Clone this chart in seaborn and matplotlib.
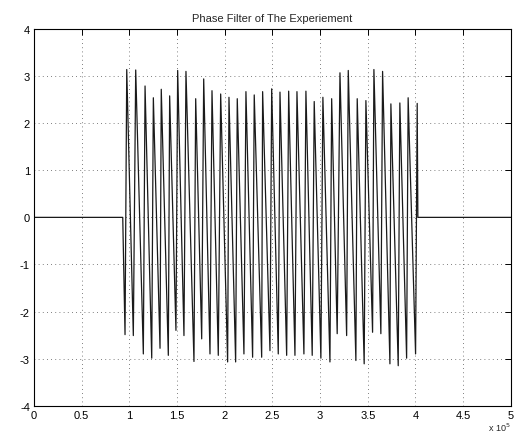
import numpy as np
import pandas as pd
import matplotlib
matplotlib.use("Agg")
import matplotlib.pyplot as plt
import seaborn as sns
from matplotlib.ticker import FuncFormatter

# ---- data ----
onset_x = 0.93e5
offset_x = 4.025e5
x_start, x_end = 0.0, 5.0e5

trough_x = [0.954, 1.041, 1.146, 1.234, 1.321, 1.408, 1.488, 1.572, 1.677, 1.758,
            1.845, 1.932, 2.030, 2.114, 2.201, 2.292, 2.387, 2.474, 2.561, 2.649,
            2.736, 2.830, 2.917, 3.008, 3.103, 3.179, 3.278, 3.375, 3.462, 3.550,
            3.637, 3.732, 3.819, 3.907, 4.001]
trough_y = [-2.49, -2.51, -2.90, -2.99, -2.78, -2.93, -2.40, -2.51, -3.06, -2.58,
            -2.90, -2.93, -3.07, -3.07, -2.90, -2.97, -2.97, -2.83, -2.90, -2.93,
            -2.93, -2.90, -2.93, -2.99, -3.07, -2.47, -2.51, -3.04, -3.11, -2.44,
            -2.47, -3.11, -3.15, -2.99, -2.90]
peak_x = [0.972, 1.066, 1.164, 1.251, 1.334, 1.422, 1.506, 1.593, 1.695, 1.779,
          1.866, 1.957, 2.044, 2.131, 2.222, 2.309, 2.397, 2.492, 2.579, 2.670,
          2.757, 2.851, 2.938, 3.029, 3.121, 3.208, 3.295, 3.389, 3.480, 3.564,
          3.655, 3.742, 3.836, 3.923, 4.018]
peak_y = [3.14, 3.13, 2.79, 2.54, 2.72, 2.58, 3.12, 3.10, 2.52, 2.94,
          2.69, 2.62, 2.55, 2.52, 2.67, 2.60, 2.67, 2.73, 2.66, 2.68,
          2.67, 2.68, 2.46, 2.55, 2.52, 3.07, 3.12, 2.52, 2.48, 3.14,
          3.10, 2.41, 2.43, 2.54, 2.42]

title = "Phase Filter of The Experiement"
xticks = [0, 0.5, 1, 1.5, 2, 2.5, 3, 3.5, 4, 4.5, 5]
yticks = [-4, -3, -2, -1, 0, 1, 2, 3, 4]

# ---- build series ----
xs = [x_start, onset_x]
ys = [0.0, 0.0]
for tx, ty, px, py in zip(trough_x, trough_y, peak_x, peak_y):
    xs += [tx * 1e5, px * 1e5]
    ys += [ty, py]
xs += [offset_x, x_end]
ys += [0.0, 0.0]
df = pd.DataFrame({"n": xs, "phase": ys})

sns.set_style("white")
plt.rcParams["font.family"] = ["Liberation Sans", "DejaVu Sans"]

fig = plt.figure(figsize=(5.16, 4.35), dpi=100)
ax = fig.add_axes([0.066, 0.065, 0.924, 0.866])

sns.lineplot(data=df, x="n", y="phase", sort=False, estimator=None,
             color="#1a1a1a", linewidth=0.9, ax=ax)

ax.set_xlim(0, 5e5)
ax.set_ylim(-4, 4)
ax.set_xticks([v * 1e5 for v in xticks])
ax.set_yticks(yticks)
ax.xaxis.set_major_formatter(FuncFormatter(lambda v, p: "%g" % (v / 1e5)))
ax.yaxis.set_major_formatter(FuncFormatter(lambda v, p: "%g" % v))
ax.set_xlabel("")
ax.set_ylabel("")
ax.grid(True, linestyle=(0, (1, 4)), color="#555555", linewidth=0.6)
ax.tick_params(direction="in", length=4, width=0.7, top=True, right=True,
               labelsize=8, colors="black", pad=3)
for s in ax.spines.values():
    s.set_visible(True)
    s.set_color("black")
    s.set_linewidth(0.8)
ax.set_title(title, fontsize=8, pad=6)
ax.text(1.0, -0.056, r"x 10$^5$", transform=ax.transAxes, ha="right", va="center",
        fontsize=6.5)

fig.savefig("out.png", dpi=100)
